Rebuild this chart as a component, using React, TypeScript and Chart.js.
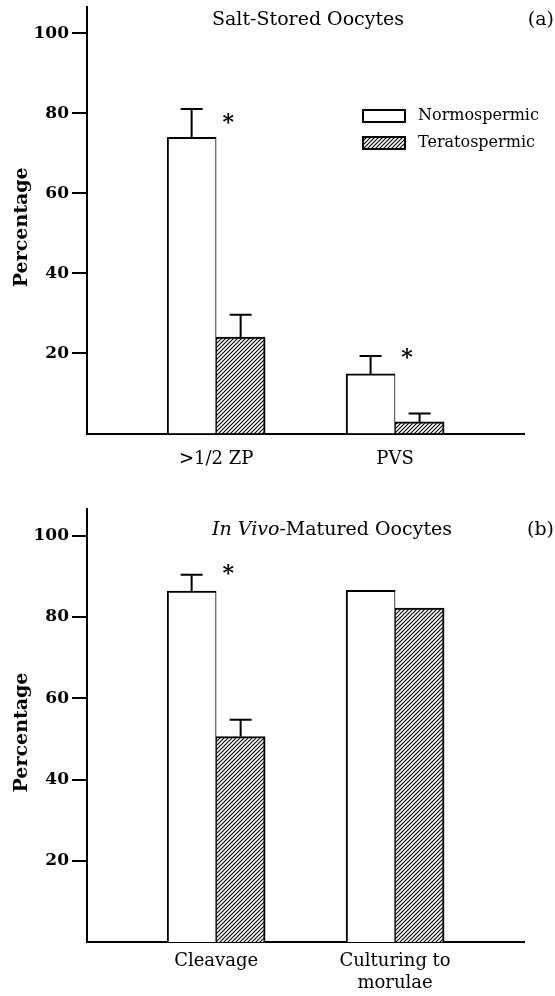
import React, { useEffect, useRef } from 'react';
import { Chart, registerables } from 'chart.js';

Chart.register(...registerables);

const FONT = '"DejaVu Serif", "Liberation Serif", serif';

// ---- Data ----
const seriesNames = ['Normospermic', 'Teratospermic'];
const yTicks = [20, 40, 60, 80, 100];
const groupPositions = [29.55, 70.5];

const topCategories = ['>1/2 ZP', 'PVS'];
const topNormo = [74.0, 14.9];
const topNormoErr = [7.1, 4.5];
const topTera = [24.1, 2.9];
const topTeraErr = [5.6, 2.1];
const topStars = [78.8, 20.0];

const bottomCategories = [['Cleavage'], ['Culturing to', 'morulae']];
const bottomNormo = [86.4, 86.6];
const bottomNormoErr = [4.0, null];
const bottomTera = [50.6, 82.2];
const bottomTeraErr = [4.1, null];
const bottomStars = [91.8, null];

type Panel = {
  categories: (string | string[])[];
  normo: number[];
  normoErr: (number | null)[];
  tera: number[];
  teraErr: (number | null)[];
  stars: (number | null)[];
  titleItalic: string;
  titleRest: string;
  letter: string;
  padTop: number;
  xAxisHeight: number;
  tickPad: number;
  titleY: number;
  showLegend: boolean;
};

function makeHatch(): CanvasPattern | string {
  const c = document.createElement('canvas');
  c.width = 4;
  c.height = 4;
  const g = c.getContext('2d');
  if (!g) return '#777';
  g.fillStyle = '#fff';
  g.fillRect(0, 0, 4, 4);
  g.strokeStyle = '#000';
  g.lineWidth = 1.1;
  g.beginPath();
  g.moveTo(0, 4);
  g.lineTo(4, 0);
  g.moveTo(-1, 1);
  g.lineTo(1, -1);
  g.moveTo(3, 5);
  g.lineTo(5, 3);
  g.stroke();
  const pat = g.createPattern(c, 'repeat');
  return pat || '#777';
}

function decorPlugin(p: Panel, hatch: CanvasPattern | string) {
  return {
    id: 'decor',
    afterDraw(chart: any) {
      const ctx: CanvasRenderingContext2D = chart.ctx;
      const ys = chart.scales.y;
      const xs = chart.scales.x;
      const area = chart.chartArea;
      ctx.save();
      // error bars (upper only)
      ctx.strokeStyle = '#000';
      ctx.lineWidth = 2;
      [p.normoErr, p.teraErr].forEach((errs, di) => {
        const meta = chart.getDatasetMeta(di);
        const vals = di === 0 ? p.normo : p.tera;
        errs.forEach((e, j) => {
          if (e == null) return;
          const bar = meta.data[j];
          const yTop = ys.getPixelForValue(vals[j] + e);
          ctx.beginPath();
          ctx.moveTo(bar.x, bar.y);
          ctx.lineTo(bar.x, yTop);
          ctx.moveTo(bar.x - 11, yTop);
          ctx.lineTo(bar.x + 11, yTop);
          ctx.stroke();
        });
      });
      // significance stars
      ctx.fillStyle = '#000';
      ctx.font = `bold 22px ${FONT}`;
      ctx.textAlign = 'center';
      ctx.textBaseline = 'alphabetic';
      const m = ctx.measureText('*');
      const shift = (m.actualBoundingBoxAscent - m.actualBoundingBoxDescent) / 2;
      p.stars.forEach((s, j) => {
        if (s == null) return;
        const x = xs.getPixelForValue(groupPositions[j]) + 12;
        ctx.fillText('*', x, ys.getPixelForValue(s) + shift);
      });
      // panel title
      ctx.textBaseline = 'middle';
      ctx.textAlign = 'left';
      let tx = 212;
      if (p.titleItalic) {
        ctx.font = `italic 19px ${FONT}`;
        ctx.fillText(p.titleItalic, tx, p.titleY);
        tx += ctx.measureText(p.titleItalic).width;
      }
      ctx.font = `19px ${FONT}`;
      ctx.fillText(p.titleRest, tx, p.titleY);
      ctx.textAlign = 'right';
      ctx.fillText(p.letter, 554, p.titleY);
      // y axis title
      ctx.save();
      ctx.translate(22, (area.top + area.bottom) / 2 + 7);
      ctx.rotate(-Math.PI / 2);
      ctx.textAlign = 'center';
      ctx.font = `bold 19px ${FONT}`;
      ctx.fillText('Percentage', 0, 0);
      ctx.restore();
      // legend
      if (p.showLegend) {
        const rows = [
          { name: seriesNames[0], fill: '#fff', y: 116 },
          { name: seriesNames[1], fill: hatch, y: 143 },
        ];
        rows.forEach((r) => {
          ctx.fillStyle = r.fill as any;
          ctx.fillRect(363, r.y - 6, 42, 12);
          ctx.strokeStyle = '#000';
          ctx.lineWidth = 2;
          ctx.strokeRect(363, r.y - 6, 42, 12);
          ctx.fillStyle = '#000';
          ctx.font = `16px ${FONT}`;
          ctx.textAlign = 'left';
          ctx.textBaseline = 'middle';
          ctx.fillText(r.name, 418, r.y);
        });
      }
      ctx.restore();
    },
  };
}

function buildChart(canvas: HTMLCanvasElement, p: Panel) {
  const hatch = makeHatch();
  return new Chart(canvas, {
    type: 'bar',
    data: {
      datasets: [
        {
          label: seriesNames[0],
          data: p.normo.map((v, i) => ({ x: groupPositions[i], y: v })),
          backgroundColor: '#fff',
          borderColor: '#000',
          borderWidth: { top: 2, left: 2, right: 1, bottom: 0 },
          barThickness: 49,
        },
        {
          label: seriesNames[1],
          data: p.tera.map((v, i) => ({ x: groupPositions[i], y: v })),
          backgroundColor: hatch as any,
          borderColor: '#000',
          borderWidth: { top: 2, left: 1, right: 2, bottom: 0 },
          barThickness: 49,
        },
      ],
    },
    options: {
      animation: false,
      responsive: false,
      events: [],
      layout: { padding: { top: p.padTop, right: 31, left: 0, bottom: 0 } },
      plugins: { legend: { display: false }, tooltip: { enabled: false } },
      scales: {
        x: {
          type: 'linear',
          min: 0,
          max: 100,
          offset: false,
          afterBuildTicks: (scale: any) => {
            scale.ticks = groupPositions.map((v) => ({ value: v }));
          },
          afterFit: (scale: any) => {
            scale.height = p.xAxisHeight;
            scale.paddingLeft = 0;
            scale.paddingRight = 0;
          },
          ticks: {
            autoSkip: false,
            maxRotation: 0,
            padding: p.tickPad,
            color: '#000',
            font: { family: FONT, size: 18 },
            callback: (_v: any, i: number) => p.categories[i] as any,
          },
          grid: { display: true, drawOnChartArea: false, drawTicks: false },
          border: { display: true, color: '#000', width: 2 },
        },
        y: {
          type: 'linear',
          min: 0,
          max: 106.6,
          afterBuildTicks: (scale: any) => {
            scale.ticks = yTicks.map((v) => ({ value: v }));
          },
          afterFit: (scale: any) => {
            scale.width = 87;
            scale.paddingTop = 0;
            scale.paddingBottom = 0;
          },
          ticks: {
            padding: 3,
            color: '#000',
            font: { family: FONT, size: 17, weight: 'bold' },
          },
          grid: {
            drawOnChartArea: false,
            drawTicks: true,
            tickLength: 15,
            color: '#000',
            lineWidth: 2,
          },
          border: { display: true, color: '#000', width: 2 },
        },
      },
    },
    plugins: [decorPlugin(p, hatch)],
  } as any);
}

const topPanel: Panel = {
  categories: topCategories,
  normo: topNormo,
  normoErr: topNormoErr,
  tera: topTera,
  teraErr: topTeraErr,
  stars: topStars,
  titleItalic: '',
  titleRest: 'Salt-Stored Oocytes',
  letter: '(a)',
  padTop: 7,
  xAxisHeight: 64.5,
  tickPad: 15,
  titleY: 20,
  showLegend: true,
};

const bottomPanel: Panel = {
  categories: bottomCategories,
  normo: bottomNormo,
  normoErr: bottomNormoErr,
  tera: bottomTera,
  teraErr: bottomTeraErr,
  stars: bottomStars,
  titleItalic: 'In Vivo',
  titleRest: '-Matured Oocytes',
  letter: '(b)',
  padTop: 11,
  xAxisHeight: 54,
  tickPad: 9,
  titleY: 32,
  showLegend: false,
};

function Panel({ panel }: { panel: Panel }) {
  const ref = useRef<HTMLCanvasElement>(null);
  useEffect(() => {
    if (!ref.current) return;
    const chart = buildChart(ref.current, panel);
    return () => chart.destroy();
  }, [panel]);
  return <canvas ref={ref} width={555} height={498} style={{ display: 'block', width: 555, height: 498 }} />;
}

export default function App() {
  return (
    <div style={{ position: 'absolute', left: 0, top: 0, width: 555, height: 996, background: '#fff' }}>
      <Panel panel={topPanel} />
      <Panel panel={bottomPanel} />
    </div>
  );
}
